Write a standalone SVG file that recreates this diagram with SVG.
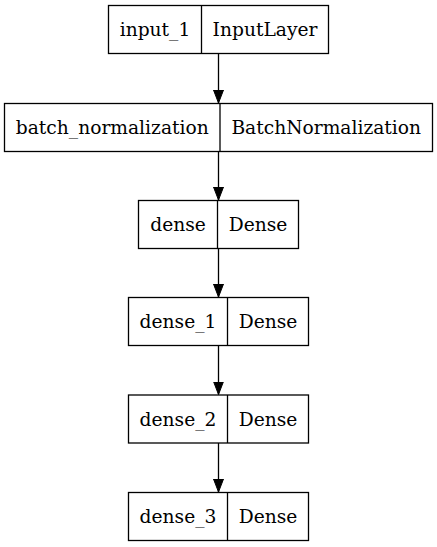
<svg xmlns="http://www.w3.org/2000/svg" width="437" height="547" viewBox="0 0 437 547">
  <defs>
    <style>
      .box { fill: #ffffff; stroke: #000000; stroke-width: 1.3; }
      .sep { stroke: #000000; stroke-width: 1.3; }
      .lbl { font-family: "DejaVu Serif", "Liberation Serif", serif; font-size: 18.67px; fill: #000000; text-anchor: middle; }
      .edge { stroke: #000000; stroke-width: 1.3; fill: none; }
    </style>
    <marker id="arrow" markerUnits="userSpaceOnUse" markerWidth="14" markerHeight="12" refX="13" refY="5" orient="auto">
      <path d="M0,0 L13,5 L0,10 Z" fill="#000000" stroke="#000000" stroke-width="1"/>
    </marker>
  </defs>
  <rect width="437" height="547" fill="#ffffff"/>

  <g id="connectors">
    <line class="edge" x1="218.5" y1="53.5" x2="218.5" y2="103" marker-end="url(#arrow)"/>
    <line class="edge" x1="218.5" y1="151.5" x2="218.5" y2="200" marker-end="url(#arrow)"/>
    <line class="edge" x1="218.5" y1="248.5" x2="218.5" y2="297" marker-end="url(#arrow)"/>
    <line class="edge" x1="218.5" y1="345.5" x2="218.5" y2="394.5" marker-end="url(#arrow)"/>
    <line class="edge" x1="218.5" y1="443" x2="218.5" y2="492" marker-end="url(#arrow)"/>
  </g>

  <g id="input_1">
    <rect class="box" x="108.5" y="5.5" width="220" height="48"/>
    <line class="sep" x1="201.5" y1="5.5" x2="201.5" y2="53.5"/>
    <text class="lbl" x="155" y="36">input_1</text>
    <text class="lbl" x="265" y="36">InputLayer</text>
  </g>

  <g id="batch_normalization">
    <rect class="box" x="4.5" y="103.5" width="428" height="48"/>
    <line class="sep" x1="220" y1="103.5" x2="220" y2="151.5"/>
    <text class="lbl" x="112.25" y="134">batch_normalization</text>
    <text class="lbl" x="326.25" y="134">BatchNormalization</text>
  </g>

  <g id="dense">
    <rect class="box" x="138.5" y="200.5" width="160" height="48"/>
    <line class="sep" x1="217.5" y1="200.5" x2="217.5" y2="248.5"/>
    <text class="lbl" x="178" y="231">dense</text>
    <text class="lbl" x="258" y="231">Dense</text>
  </g>

  <g id="dense_1">
    <rect class="box" x="128.5" y="297.5" width="180" height="48"/>
    <line class="sep" x1="227.5" y1="297.5" x2="227.5" y2="345.5"/>
    <text class="lbl" x="178" y="328">dense_1</text>
    <text class="lbl" x="268" y="328">Dense</text>
  </g>

  <g id="dense_2">
    <rect class="box" x="128.5" y="395" width="180" height="48"/>
    <line class="sep" x1="227.5" y1="395" x2="227.5" y2="443"/>
    <text class="lbl" x="178" y="425.5">dense_2</text>
    <text class="lbl" x="268" y="425.5">Dense</text>
  </g>

  <g id="dense_3">
    <rect class="box" x="128.5" y="492.5" width="180" height="48"/>
    <line class="sep" x1="227.5" y1="492.5" x2="227.5" y2="540.5"/>
    <text class="lbl" x="178" y="523">dense_3</text>
    <text class="lbl" x="268" y="523">Dense</text>
  </g>
</svg>
